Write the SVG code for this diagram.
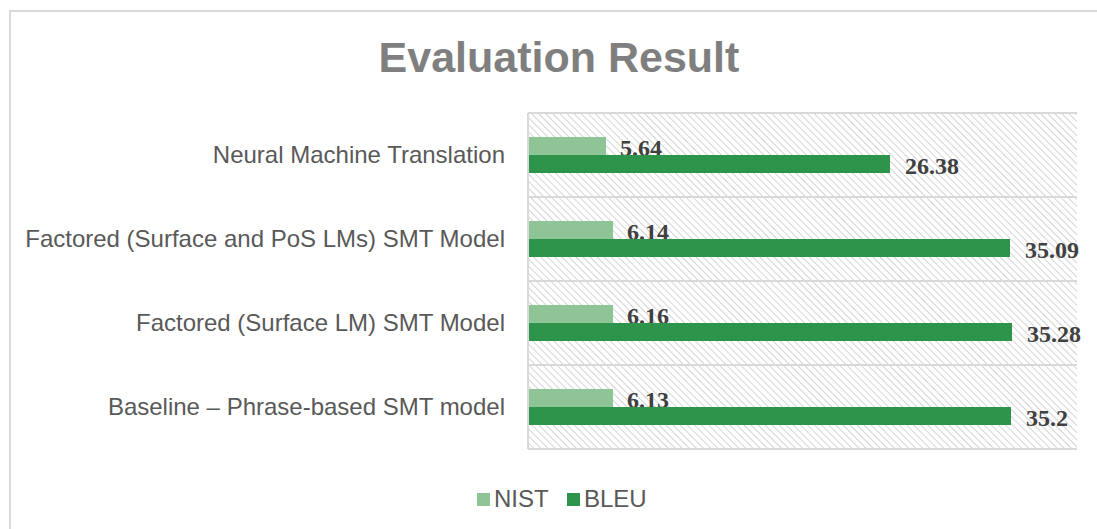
<svg xmlns="http://www.w3.org/2000/svg" width="1097" height="529" viewBox="0 0 1097 529">
<defs>
<pattern id="hatch" patternUnits="userSpaceOnUse" width="5" height="5" patternTransform="rotate(-45)">
<line x1="0" y1="0" x2="0" y2="5" stroke="#cfcfcf" stroke-width="1.8"/>
</pattern>
</defs>
<style>
.cat{font-family:"Liberation Sans",Arial,sans-serif;font-size:24px;fill:#595959;text-anchor:end}
.val{font-family:"Liberation Serif","Times New Roman",serif;font-size:24px;font-weight:bold;fill:#404040}
.nist{fill:#8fc496}
.bleu{fill:#2e934b}
.grid{stroke:#d9d9d9;stroke-width:2}
.leg{font-family:"Liberation Sans",Arial,sans-serif;font-size:24px;fill:#595959}
</style>
<rect x="0" y="0" width="1097" height="529" fill="#ffffff"/>
<rect x="10" y="11" width="1100" height="530" fill="none" stroke="#d9d9d9" stroke-width="2"/>
<text x="559" y="72" font-family="'Liberation Sans',Arial,sans-serif" font-size="43" font-weight="bold" fill="#7f7f7f" text-anchor="middle">Evaluation Result</text>
<g id="plot">
<rect x="529" y="113" width="548" height="336" fill="url(#hatch)"/>
<line class="grid" x1="528" y1="113" x2="1077" y2="113"/>
<line class="grid" x1="528" y1="197" x2="1077" y2="197"/>
<line class="grid" x1="528" y1="281" x2="1077" y2="281"/>
<line class="grid" x1="528" y1="365" x2="1077" y2="365"/>
<line class="grid" x1="528" y1="449" x2="1077" y2="449"/>
<line class="grid" x1="528" y1="113" x2="528" y2="449"/>
</g>
<g id="cat-nmt">
<text class="cat" x="505" y="163">Neural Machine Translation</text>
<rect class="nist" x="529" y="137" width="77" height="18"/>
<text class="val" x="620" y="156">5.64</text>
<rect class="bleu" x="529" y="155" width="361" height="18"/>
<text class="val" x="905" y="174">26.38</text>
</g>
<g id="cat-factored-pos">
<text class="cat" x="505" y="247">Factored (Surface and PoS LMs) SMT Model</text>
<rect class="nist" x="529" y="221" width="84" height="18"/>
<text class="val" x="627" y="240">6.14</text>
<rect class="bleu" x="529" y="239" width="481" height="18"/>
<text class="val" x="1025" y="258">35.09</text>
</g>
<g id="cat-factored-surface">
<text class="cat" x="505" y="331">Factored (Surface LM) SMT Model</text>
<rect class="nist" x="529" y="305" width="84" height="18"/>
<text class="val" x="627" y="324">6.16</text>
<rect class="bleu" x="529" y="323" width="483" height="18"/>
<text class="val" x="1027" y="342">35.28</text>
</g>
<g id="cat-baseline">
<text class="cat" x="505" y="415">Baseline – Phrase-based SMT model</text>
<rect class="nist" x="529" y="389" width="84" height="18"/>
<text class="val" x="627" y="408">6.13</text>
<rect class="bleu" x="529" y="407" width="482" height="18"/>
<text class="val" x="1026" y="426">35.2</text>
</g>
<g id="legend">
<rect class="nist" x="477" y="493" width="13" height="13"/>
<text class="leg" x="494" y="507">NIST</text>
<rect class="bleu" x="567" y="493" width="13" height="13"/>
<text class="leg" x="584" y="507">BLEU</text>
</g>
</svg>
